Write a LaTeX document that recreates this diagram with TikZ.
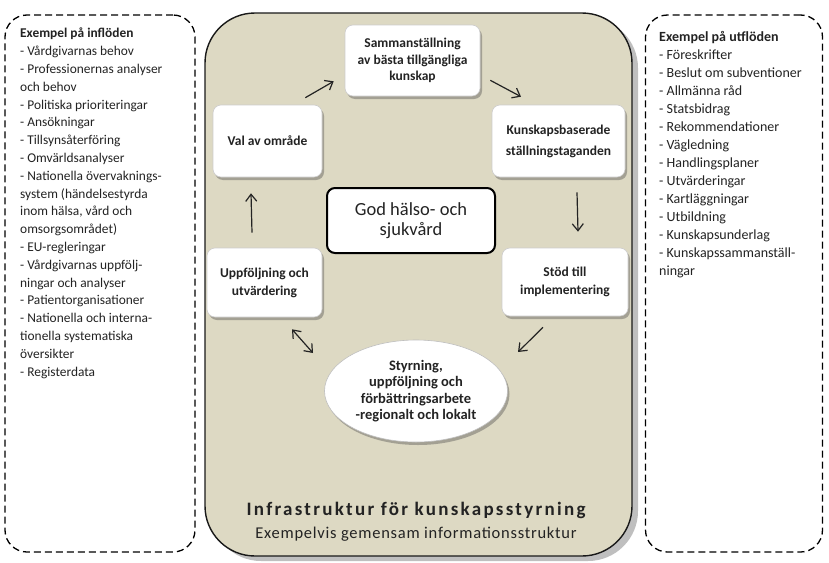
\documentclass[tikz,border=0pt]{standalone}
\usepackage{fontspec}
\setmainfont{Carlito}
\usetikzlibrary{shadows,arrows.meta,shapes.geometric}
\definecolor{beige}{RGB}{221,217,195}
\definecolor{ink}{RGB}{35,35,35}
\begin{document}
\begin{tikzpicture}[x=1pt,y=-1pt,
 wbox/.style={draw=black!20, fill=white, rounded corners=8pt, line width=0.6pt, align=center,
   font=\fontsize{13.5}{16.5}\selectfont\bfseries, text=ink, inner sep=0pt,
   drop shadow={shadow xshift=2pt,shadow yshift=-3pt,opacity=0.4,fill=black!70}},
 arr/.style={-{Straight Barb[length=7pt,width=11pt]}, line width=1.2pt, draw=ink},
 darr/.style={{Straight Barb[length=7pt,width=11pt]}-{Straight Barb[length=7pt,width=11pt]}, line width=1.2pt, draw=ink},
 dbox/.style={draw=black, dash pattern=on 7pt off 4pt, line width=1.3pt, rounded corners=22pt, inner sep=0pt},
 list/.style={anchor=north west, align=left, font=\fontsize{13.4}{17.8}\selectfont, text=ink, inner sep=0pt}
]
\useasboundingbox (0,0) rectangle (829,562);
\fill[white] (0,0) rectangle (829,562);

% side boxes
\node[dbox, minimum width=190pt, minimum height=537pt] (inbox) at (100,283.5) {};
\node[dbox, minimum width=177pt, minimum height=537pt] (outbox) at (734,283.5) {};

\node[list] (intext) at (20,28) {\textbf{Exempel på inflöden}\\
- Vårdgivarnas behov\\
- Professionernas analyser\\
och behov\\
- Politiska prioriteringar\\
- Ansökningar\\
- Tillsynsåterföring\\
- Omvärldsanalyser\\
- Nationella övervaknings-\\
system (händelsestyrda\\
inom hälsa, vård och\\
omsorgsområdet)\\
- EU-regleringar\\
- Vårdgivarnas uppfölj-\\
ningar och analyser\\
- Patientorganisationer\\
- Nationella och interna-\\
tionella systematiska\\
översikter\\
- Registerdata};

\node[list, font=\fontsize{14}{18}\selectfont] (outtext) at (659,31.5) {\textbf{Exempel på utflöden}\\
- Föreskrifter\\
- Beslut om subventioner\\
- Allmänna råd\\
- Statsbidrag\\
- Rekommendationer\\
- Vägledning\\
- Handlingsplaner\\
- Utvärderingar\\
- Kartläggningar\\
- Utbildning\\
- Kunskapsunderlag\\
- Kunskapssammanställ-\\
ningar};

% main box
\node[draw=black!90, fill=beige, rounded corners=50pt, line width=1.4pt,
  minimum width=427pt, minimum height=543pt,
  drop shadow={shadow xshift=6pt,shadow yshift=-5pt,opacity=0.5,fill=black!50}] (main) at (418.5,284.5) {};

% step boxes
\node[wbox, minimum width=135pt, minimum height=71pt] (samman) at (412.5,60.5)
  {Sammanställning\\av bästa tillgängliga\\kunskap};
\node[wbox, minimum width=109pt, minimum height=72pt] (val) at (267.5,141) {Val av område};
\node[wbox, minimum width=133pt, minimum height=72pt, font=\fontsize{13.5}{21}\selectfont\bfseries] (kuns) at (558.5,141)
  {Kunskapsbaserade\\ställningstaganden};
\node[wbox, minimum width=115pt, minimum height=69pt, font=\fontsize{13.5}{18}\selectfont\bfseries] (uppf) at (264.5,282.5)
  {Uppföljning och\\utvärdering};
\node[wbox, minimum width=126pt, minimum height=68pt, font=\fontsize{13.5}{18}\selectfont\bfseries] (stod) at (565,282)
  {Stöd till\\implementering};
\node[draw=black, fill=white, rounded corners=8pt, line width=2pt, align=center, inner sep=0pt,
  font=\fontsize{18.5}{20.5}\selectfont, text=ink,
  minimum width=168pt, minimum height=65pt] (god) at (411,220.5) {God hälso- och\\sjukvård};
\node[ellipse, draw=black!25, fill=white, line width=0.6pt, align=center, inner sep=0pt,
  font=\fontsize{14.5}{16.5}\selectfont\bfseries, text=ink,
  minimum width=183pt, minimum height=102pt,
  drop shadow={shadow xshift=2pt,shadow yshift=-3pt,opacity=0.4,fill=black!70}] (ell) at (416,391)
  {Styrning,\\uppföljning och\\förbättringsarbete\\-regionalt och lokalt};

% titles
\node[font=\fontsize{19}{22}\selectfont\bfseries\addfontfeature{LetterSpace=12}, text=ink] (infra) at (416,510)
  {Infrastruktur för kunskapsstyrning};
\node[font=\fontsize{16.5}{19}\selectfont\addfontfeature{LetterSpace=4.5}, text=ink] (exempel) at (416,534)
  {Exempelvis gemensam informationsstruktur};

% arrows
\draw[arr] ([shift={(-17,-7)}]val.north east) -- ([shift={(-11,-15)}]samman.south west);
\draw[arr] ([shift={(10,-16)}]samman.south east) -- ([shift={(-37.5,-8)}]kuns.north);
\draw[arr] ([shift={(18.5,15)}]kuns.south) -- ([shift={(13,-16)}]stod.north);
\draw[arr] ([shift={(-22,11)}]stod.south) -- ([shift={(102,-39)}]ell.center);
\draw[darr] ([shift={(27.5,12)}]uppf.south) -- ([shift={(-103,-38)}]ell.center);
\draw[arr] ([shift={(-12.5,-15)}]uppf.north) -- ([shift={(-16.5,16)}]val.south);
\end{tikzpicture}
\end{document}
